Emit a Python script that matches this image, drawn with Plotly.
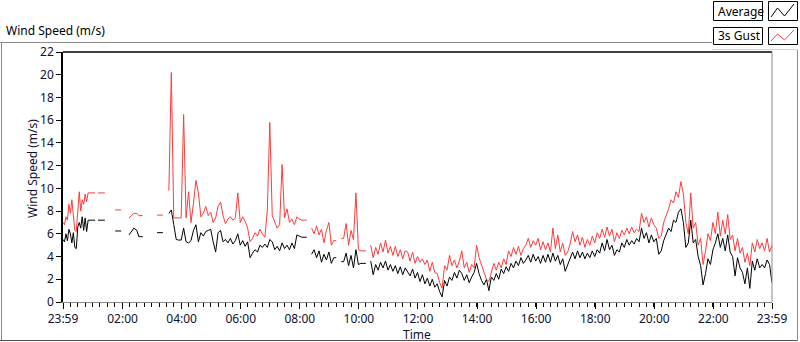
import plotly.graph_objects as go

# ---------------- data (minutes after 23:59 of previous day) ----------------
early_minutes = [0, 3, 6, 9, 12, 15, 18, 21, 24, 27, 30, 33, 36, 39, 42, 45, 48, 51, 65, 68,
                 71, 85, 95, 106, 118, 125, 134, 140, 144, 150, 154, 162, 175, 191, 203, 209]
early_avg = [5.5, 5.3, 6.0, 5.4, 6.4, 6.0, 5.2, 6.1, 4.8, 4.7, 6.6, 7.0, 6.5, 7.5, 6.3, 7.4, 6.2, 7.2, 7.2, None,
             7.2, 7.2, None, 6.25, 6.25, None, 5.9, 6.2, 6.5, 6.3, 5.75, 5.75, None, 6.1, 6.1, None]
early_gust = [7.0, 6.8, 7.5, 7.2, 8.6, 7.8, 9.0, 7.6, 6.3, 6.2, 8.2, 9.7, 8.0, 9.0, 8.6, 9.5, 8.8, 9.6, 9.6, None,
              9.6, 9.6, None, 8.1, 8.1, None, 7.4, 7.6, 7.8, 7.8, 7.6, 7.6, None, 7.65, 7.65, None]

dense_start = 215
dense_step = 5
dense_avg = [
    7.8, 8.1, 6.8, 5.5, 5.45, 5.45, 6.5, 5.3, 5.2, 5.4,
    6.3, 6.8, 5.3, 6.1, 5.8, 6.2, 6.3, 6.4, 5.3, 4.4,
    6.1, 6.3, 5.3, 5.5, 5.2, 5.6, 5.1, 5.4, 6.0, 5.0,
    5.4, 4.9, 5.3, 3.9, 4.3, 4.6, 4.4, 5.0, 4.8, 5.1,
    4.8, 5.5, 5.3, 4.6, 4.9, 4.5, 5.2, 4.7, 5.0, 4.6,
    5.2, 4.7, 5.9, 5.8, 5.7, 5.7, 5.7, None, 4.2, 4.6,
    3.9, 4.5, 3.5, 4.2, 3.7, 4.4, 3.4, 3.9, 3.9, None,
    3.55, 3.55, 4.3, 3.2, 4.1, 3.0, 4.6, 3.3, 3.4, 3.4,
    3.4, None, 3.6, 2.4, 3.3, 2.8, 3.5, 3.0, 3.6, 2.8,
    3.3, 2.7, 3.2, 2.5, 3.1, 2.4, 3.0, 2.6, 2.3, 2.9,
    2.1, 2.6, 1.8, 2.4, 1.6, 2.1, 1.4, 2.0, 1.3, 1.6,
    0.9, 0.45, 1.9, 1.4, 2.2, 1.9, 2.6, 2.1, 2.8, 2.5,
    1.9, 2.4, 1.7, 2.2, 2.6, 3.4, 2.5, 1.9, 1.5, 2.0,
    1.0, 2.2, 1.9, 2.5, 2.0, 2.9, 2.5, 3.1, 2.7, 3.4,
    3.0, 3.6, 3.2, 3.9, 3.4, 3.7, 4.1, 3.5, 4.2, 3.6,
    4.0, 3.4, 4.1, 3.5, 4.2, 3.5, 4.3, 3.6, 4.1, 3.3,
    3.8, 2.7, 3.3, 3.9, 4.4, 3.8, 4.5, 3.9, 4.4, 3.8,
    4.3, 3.9, 4.5, 4.0, 4.6, 4.3, 5.2, 4.5, 5.5, 4.6,
    5.0, 4.1, 4.6, 4.4, 5.2, 4.8, 5.5, 5.0, 5.4, 5.1,
    5.6, 5.3, 6.5, 5.6, 6.1, 5.2, 5.9, 5.3, 5.6, 4.2,
    4.5, 5.4, 6.0, 6.5, 6.2, 7.2, 7.0, 7.9, 8.2, 7.0,
    4.8, 5.2, 7.2, 5.2, 5.5, 4.0, 3.2, 1.5, 2.5, 3.8,
    3.3, 4.6, 5.2, 6.0, 4.8, 5.6, 4.5, 5.9, 4.4, 4.0,
    2.3, 3.9, 3.0, 2.6, 1.6, 3.0, 1.2, 3.6, 2.8, 3.8,
    3.0, 3.3, 3.0, 3.7, 3.3, 1.7,
]
dense_gust = [
    9.8, 20.2, 7.4, 7.4, 7.4, 7.4, 16.5, 7.4, 9.7, 7.0,
    8.7, 10.7, 9.6, 7.5, 7.8, 8.4, 7.6, 7.9, 7.0, 7.4,
    8.4, 8.8, 7.6, 6.9, 7.3, 7.5, 7.2, 7.4, 9.6, 7.0,
    7.5, 7.1, 6.5, 5.3, 5.6, 6.1, 5.8, 6.4, 6.0, 5.7,
    8.1, 15.8, 7.6, 7.1, 6.5, 6.8, 12.1, 7.4, 8.2, 7.0,
    7.3, 6.8, 7.5, 7.3, 7.2, 7.2, 7.2, None, 6.5, 6.0,
    6.7, 5.9, 6.4, 5.2, 6.3, 7.0, 5.0, 5.4, 5.4, None,
    5.6, 5.6, 6.9, 5.0, 6.3, 5.5, 9.6, 4.6, 4.5, 4.5,
    4.5, None, 5.0, 3.9, 4.8, 4.2, 5.2, 4.4, 5.45, 4.3,
    4.9, 4.1, 4.9, 4.0, 4.6, 3.8, 4.5, 4.4, 3.6, 4.4,
    3.4, 4.0, 3.5, 3.8, 3.3, 3.7, 2.7, 3.5, 2.6, 2.5,
    1.7, 1.2, 3.2, 2.8, 4.1, 3.2, 3.7, 3.0, 3.6, 4.5,
    3.0, 3.5, 2.6, 3.3, 3.0, 5.0, 3.9, 3.2, 2.6, 2.0,
    1.8, 2.7, 3.4, 2.8, 3.5, 3.0, 3.8, 3.3, 4.5, 4.0,
    4.8, 4.2, 4.9, 4.1, 4.7, 5.0, 5.6, 4.8, 5.4, 5.0,
    5.6, 4.6, 5.3, 4.6, 5.2, 4.4, 6.5, 4.7, 5.9, 4.4,
    5.2, 4.1, 4.4, 5.1, 6.2, 5.3, 5.9, 5.0, 5.7, 4.8,
    5.5, 5.0, 5.8, 5.2, 6.1, 5.6, 6.4, 5.7, 6.6, 5.8,
    6.4, 5.3, 6.1, 5.6, 6.3, 5.9, 6.5, 6.0, 6.6, 6.1,
    6.4, 6.2, 7.8, 7.0, 7.5, 6.6, 7.4, 6.8, 6.5, 5.6,
    5.8, 7.0, 7.6, 8.2, 9.0, 8.7, 9.7, 9.2, 10.6, 9.5,
    7.0, 6.0, 9.6, 6.5, 7.0, 5.0, 5.6, 3.3, 4.5, 6.0,
    5.4, 7.0, 6.0, 7.9, 5.8, 7.2, 6.0, 7.7, 5.5, 5.9,
    4.5, 5.6, 4.3, 4.8, 3.5, 4.3, 3.2, 5.2, 4.4, 5.5,
    4.7, 5.2, 4.5, 5.6, 4.4, 5.0,
]

tick_minutes = [0, 121, 241, 361, 481, 601, 721, 841, 961, 1081, 1201, 1321, 1440]
tick_labels = ["23:59", "02:00", "04:00", "06:00", "08:00", "10:00", "12:00",
               "14:00", "16:00", "18:00", "20:00", "22:00", "23:59"]
y_ticks = [0, 2, 4, 6, 8, 10, 12, 14, 16, 18, 20, 22]
series_names = ["Average", "3s Gust"]
series_colors = ["#000000", "#ff3b3b"]

minutes = early_minutes + [dense_start + i * dense_step for i in range(len(dense_avg))]
avg = early_avg + dense_avg
gust = early_gust + dense_gust

# ---------------- geometry helpers ----------------
W, H = 800, 342
PL, PR, PT, PB = 63, 772, 52, 302


def px(x):
    return (x - PL) / (PR - PL)


def py(y):
    return (PB - y) / (PB - PT)


FONT = "Noto Sans, Liberation Sans, sans-serif"

fig = go.Figure()
for name, vals, col in zip(series_names, [avg, gust], series_colors):
    fig.add_trace(go.Scatter(x=minutes, y=vals, mode="lines", name=name,
                             line=dict(color=col, width=1, shape="linear"),
                             connectgaps=False, showlegend=False))

fig.update_layout(
    width=W, height=H,
    margin=dict(l=PL, r=W - PR, t=PT, b=H - PB),
    paper_bgcolor="white", plot_bgcolor="white",
    font=dict(family=FONT, size=12, color="#101030"),
    xaxis=dict(range=[0, 1440], tickmode="array", tickvals=tick_minutes, ticktext=tick_labels,
               ticks="outside", ticklen=6, tickcolor="black", tickwidth=1,
               showline=True, linecolor="#8a8a8a", linewidth=1,
               showgrid=False, zeroline=False, tickfont=dict(size=12),
               minor=dict(tickmode="linear", tick0=0, dtick=15, ticks="outside",
                          ticklen=4, tickcolor="black", tickwidth=1, showgrid=False)),
    yaxis=dict(range=[0, 22], tickmode="array", tickvals=y_ticks,
               ticks="outside", ticklen=5, tickcolor="black", tickwidth=1,
               showline=True, linecolor="black", linewidth=1.5,
               showgrid=False, zeroline=False, tickfont=dict(size=12)),
)

shapes = []


def hline(x0, x1, y, color, width=1):
    shapes.append(dict(type="line", xref="paper", yref="paper", x0=px(x0), x1=px(x1),
                       y0=py(y), y1=py(y), line=dict(color=color, width=width)))


def vline(x, y0, y1, color, width=1):
    shapes.append(dict(type="line", xref="paper", yref="paper", x0=px(x), x1=px(x),
                       y0=py(y0), y1=py(y1), line=dict(color=color, width=width)))


# outer frame
hline(0, 712, 42.5, "#8a8a8a")
vline(1.5, 42, 340, "#8a8a8a")
hline(0, 798, 340.5, "#505050")
vline(797.5, 49, 341, "#8a8a8a")
hline(712, 798, 49.5, "#d6d6d6")
# plot border (top black, right gray)
hline(PL, PR, PT, "black", 1.5)
vline(PR, PT, PB, "#8a8a8a")

# legend boxes
rows = [(1, 20), (27, 44)]
for (y0, y1), col in zip(rows, series_colors):
    shapes.append(dict(type="rect", xref="paper", yref="paper", x0=px(713.5), x1=px(762.5),
                       y0=py(y0 + 0.5), y1=py(y1 + 0.5), line=dict(color="black", width=1),
                       fillcolor="white"))
    shapes.append(dict(type="rect", xref="paper", yref="paper", x0=px(768.5), x1=px(797.5),
                       y0=py(y0 + 0.5), y1=py(y1 + 0.5), line=dict(color="black", width=1),
                       fillcolor="white"))
    pts = [(771, y1 - 3), (777.5, y0 + 7), (784.5, y1 - 4), (794, y0 + 3)]
    path = "M " + " L ".join(f"{px(a)},{py(b)}" for a, b in pts)
    shapes.append(dict(type="path", xref="paper", yref="paper", path=path,
                       line=dict(color=col, width=1)))
fig.update_layout(shapes=shapes)

annotations = [
    dict(text="Wind Speed (m/s)", x=px(4), y=py(31), xanchor="left", yanchor="middle",
         font=dict(size=12, color="black")),
    dict(text="Wind Speed (m/s)", x=px(32), y=py(169), xanchor="center", yanchor="middle",
         textangle=-90, font=dict(size=12, color="#101030")),
    dict(text="Time", x=px(417), y=py(334), xanchor="center", yanchor="middle",
         font=dict(size=12, color="#101030")),
]
for (y0, y1), name in zip(rows, series_names):
    annotations.append(dict(text=name, x=px(716), y=py((y0 + y1) / 2 + 0.5), xanchor="left",
                            yanchor="middle", font=dict(size=12, color="black")))
for a in annotations:
    a.update(xref="paper", yref="paper", showarrow=False)
fig.update_layout(annotations=annotations)

fig.write_html("out.html", config={"displayModeBar": False},
               post_script="document.body.style.margin='0';document.body.style.overflow='hidden';")
